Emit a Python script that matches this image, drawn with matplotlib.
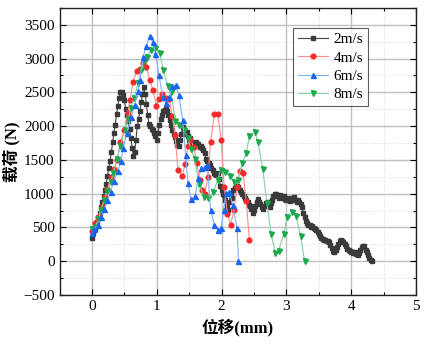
import matplotlib.pyplot as plt
from matplotlib.ticker import MultipleLocator

# 2m/s (black squares)
x_2 = [0.00, 0.02, 0.04, 0.06, 0.08, 0.10, 0.12, 0.14, 0.16, 0.18,
       0.20, 0.22, 0.24, 0.26, 0.28, 0.30, 0.32, 0.34, 0.36, 0.38,
       0.40, 0.42, 0.44, 0.46, 0.48, 0.50, 0.52, 0.54, 0.56, 0.58,
       0.60, 0.62, 0.64, 0.66, 0.68, 0.70, 0.72, 0.74, 0.76, 0.78,
       0.80, 0.82, 0.84, 0.86, 0.88, 0.90, 0.92, 0.94, 0.96, 0.98,
       1.00, 1.02, 1.04, 1.06, 1.08, 1.10, 1.12, 1.14, 1.16, 1.18,
       1.20, 1.22, 1.24, 1.26, 1.28, 1.30, 1.32, 1.34, 1.36, 1.38,
       1.40, 1.42, 1.44, 1.46, 1.48, 1.50, 1.52, 1.54, 1.56, 1.58,
       1.60, 1.62, 1.64, 1.66, 1.68, 1.70, 1.72, 1.74, 1.76, 1.78,
       1.80, 1.82, 1.84, 1.86, 1.88, 1.90, 1.92, 1.94, 1.96, 1.98,
       2.00, 2.02, 2.04, 2.06, 2.08, 2.10, 2.12, 2.14, 2.16, 2.18,
       2.20, 2.22, 2.24, 2.26, 2.28, 2.30, 2.32, 2.34, 2.36, 2.38,
       2.40, 2.42, 2.44, 2.46, 2.48, 2.50, 2.52, 2.54, 2.56, 2.58,
       2.60, 2.62, 2.64, 2.66, 2.68, 2.70, 2.72, 2.74, 2.76, 2.78,
       2.80, 2.82, 2.84, 2.86, 2.88, 2.90, 2.92, 2.94, 2.96, 2.98,
       3.00, 3.02, 3.04, 3.06, 3.08, 3.10, 3.12, 3.14, 3.16, 3.18,
       3.20, 3.22, 3.24, 3.26, 3.28, 3.30, 3.32, 3.34, 3.36, 3.38,
       3.40, 3.42, 3.44, 3.46, 3.48, 3.50, 3.52, 3.54, 3.56, 3.58,
       3.60, 3.62, 3.64, 3.66, 3.68, 3.70, 3.72, 3.74, 3.76, 3.78,
       3.80, 3.82, 3.84, 3.86, 3.88, 3.90, 3.92, 3.94, 3.96, 3.98,
       4.00, 4.02, 4.04, 4.06, 4.08, 4.10, 4.12, 4.14, 4.16, 4.18,
       4.20, 4.22, 4.24, 4.26, 4.28, 4.30, 4.32]
y_2 = [350, 420, 470, 520, 580, 640, 720, 800, 880, 960,
       1050, 1150, 1260, 1380, 1480, 1620, 1760, 1900, 2020, 2180,
       2300, 2420, 2500, 2510, 2460, 2390, 2260, 2170, 2080, 1960,
       1830, 1680, 1560, 1620, 1800, 2000, 2100, 2230, 2360, 2470,
       2580, 2480, 2330, 2160, 2030, 2000, 1960, 1940, 1900, 1850,
       1790, 1900, 2010, 2100, 2170, 2220, 2240, 2260, 2220, 2160,
       2090, 2020, 1950, 1880, 1840, 1780, 1720, 1700, 1800, 1880,
       1980, 1940, 1880, 1920, 1860, 1800, 1820, 1760, 1740, 1700,
       1760, 1740, 1740, 1690, 1700, 1670, 1640, 1600, 1520, 1480,
       1450, 1420, 1380, 1350, 1310, 1290, 1280, 1300, 1220, 1120,
       1060, 1000, 980, 900, 820, 760, 880, 1000, 930, 1050,
       1080, 1100, 1120, 1100, 1060, 1030, 990, 960, 940, 900,
       870, 830, 810, 780, 720, 760, 820, 880, 920, 870,
       840, 800, 780, 820, 860, 830, 870, 800, 860, 900,
       960, 990, 990, 960, 940, 980, 960, 930, 960, 920,
       900, 940, 910, 890, 930, 920, 950, 910, 880, 900,
       870, 850, 800, 720, 660, 600, 560, 540, 530, 500,
       520, 490, 470, 460, 430, 410, 380, 350, 330, 320,
       310, 300, 300, 290, 240, 200, 150, 140, 170, 210,
       260, 300, 310, 300, 280, 260, 220, 180, 160, 150,
       130, 120, 140, 130, 110, 90, 120, 160, 210, 230,
       220, 170, 135, 90, 50, 15, 0]

# 4m/s (red circles)
x_4 = [0.00, 0.05, 0.10, 0.15, 0.20, 0.24, 0.29, 0.34, 0.39, 0.44,
       0.50, 0.55, 0.59, 0.635, 0.69, 0.74, 0.79, 0.815, 0.84, 0.89,
       0.94, 0.995, 1.035, 1.085, 1.14, 1.19, 1.24, 1.28, 1.33, 1.39,
       1.44, 1.48, 1.52, 1.57, 1.62, 1.66, 1.70, 1.74, 1.79, 1.83,
       1.89, 1.94, 1.995, 2.04, 2.09, 2.14, 2.19, 2.24, 2.28, 2.33,
       2.38, 2.43]
y_4 = [450, 560, 660, 805, 950, 1065, 1240, 1360, 1500, 1770,
       1945, 2190, 2390, 2660, 2810, 2840, 2940, 2990, 2880, 2685,
       2540, 2305, 2400, 2480, 2410, 2400, 2150, 1870, 1350, 1265,
       1440, 1700, 1800, 1690, 1450, 1200, 1060, 1000, 1250, 1770,
       2180, 2180, 1800, 1100, 705, 535, 757, 1100, 1340, 1310,
       895, 310]

# 6m/s (blue up triangles)
x_6 = [0.00, 0.035, 0.09, 0.14, 0.19, 0.24, 0.29, 0.34, 0.40, 0.45,
       0.48, 0.54, 0.61, 0.66, 0.71, 0.74, 0.79, 0.84, 0.89, 0.94,
       0.98, 1.035, 1.09, 1.14, 1.19, 1.24, 1.29, 1.34, 1.40, 1.445,
       1.48, 1.53, 1.595, 1.635, 1.69, 1.74, 1.78, 1.83, 1.89, 1.94,
       1.995, 2.03, 2.07, 2.12, 2.17, 2.24, 2.26]
y_6 = [415, 475, 535, 650, 770, 900, 1030, 1190, 1340, 1490,
       1670, 1895, 2140, 2315, 2520, 2685, 3030, 3180, 3340, 3240,
       3070, 2760, 2430, 2340, 2425, 2590, 2610, 2465, 2090, 1570,
       1160, 915, 965, 1225, 1375, 1400, 1430, 760, 535, 460,
       485, 760, 1010, 1030, 830, 485, 5]

# 8m/s (green down triangles)
x_8 = [0.00, 0.046, 0.10, 0.14, 0.19, 0.24, 0.29, 0.33, 0.385, 0.44,
       0.51, 0.56, 0.60, 0.65, 0.71, 0.76, 0.80, 0.855, 0.91, 0.97,
       1.045, 1.10, 1.17, 1.22, 1.285, 1.35, 1.42, 1.48, 1.53, 1.585,
       1.65, 1.73, 1.79, 1.87, 1.94, 1.985, 2.05, 2.13, 2.19, 2.25,
       2.32, 2.38, 2.43, 2.51, 2.56, 2.635, 2.70, 2.765, 2.83, 2.88,
       2.96, 3.01, 3.09, 3.15, 3.22, 3.28]
y_8 = [470, 500, 620, 760, 905, 1040, 1180, 1300, 1510, 1705,
       1950, 2100, 2270, 2410, 2635, 2835, 2960, 3030, 3130, 3160,
       3080, 2835, 2590, 2510, 2080, 2020, 1950, 1820, 1655, 1510,
       1150, 945, 930, 1020, 1200, 1350, 1320, 1255, 1180, 1200,
       1460, 1595, 1855, 1920, 1770, 1360, 855, 400, 125, 155,
       410, 655, 730, 665, 370, 0]

labels = ['2m/s', '4m/s', '6m/s', '8m/s']

plt.rcParams['font.family'] = ['Liberation Serif', 'Noto Sans CJK SC']

fig = plt.figure(figsize=(4.25, 3.45), dpi=100)
ax = fig.add_axes([0.14, 0.145, 0.839, 0.832])

ax.plot(x_2, y_2, color='#444444', lw=0.8, marker='s', ms=3.0,
        mfc='#3a3a3a', mec='#3a3a3a', label=labels[0], zorder=3)
ax.plot(x_4, y_4, color='#ff8a8a', lw=0.8, marker='o', ms=3.4,
        mfc='#f52a2a', mec='#f52a2a', label=labels[1], zorder=4)
ax.plot(x_6, y_6, color='#7fb0ff', lw=0.8, marker='^', ms=3.6,
        mfc='#1a66f0', mec='#1a66f0', label=labels[2], zorder=5)
ax.plot(x_8, y_8, color='#80d4a4', lw=0.8, marker='v', ms=3.6,
        mfc='#1da84e', mec='#1da84e', label=labels[3], zorder=4)

ax.set_xlim(-0.5, 5)
ax.set_ylim(-500, 3750)
ax.xaxis.set_major_locator(MultipleLocator(1))
ax.xaxis.set_minor_locator(MultipleLocator(0.5))
ax.yaxis.set_major_locator(MultipleLocator(500))
ax.yaxis.set_minor_locator(MultipleLocator(250))

ax.grid(True, which='major', color='#c0c0c0', lw=1.0, zorder=0)
ax.grid(True, which='minor', color='#d8d8d8', lw=0.7, ls=':', zorder=0)
ax.set_axisbelow(True)

ax.tick_params(which='both', direction='in', top=True, right=True,
               labelsize=11, width=0.8)
ax.tick_params(which='major', length=4)
ax.tick_params(which='minor', length=2.5)
for s in ax.spines.values():
    s.set_linewidth(1.0)
    s.set_color('#222222')

ax.set_xlabel('位移(mm)', fontsize=12, fontweight='bold', labelpad=4)
ax.set_ylabel('载荷 (N)', fontsize=12, fontweight='bold', labelpad=2)

leg = ax.legend(loc='upper left', bbox_to_anchor=(0.655, 0.93), fontsize=11,
                frameon=True, fancybox=False, edgecolor='#333333',
                handlelength=2.0, borderpad=0.3, labelspacing=0.3,
                handletextpad=0.35, borderaxespad=0)
leg.get_frame().set_linewidth(0.8)

fig.savefig('out.png', dpi=100)
